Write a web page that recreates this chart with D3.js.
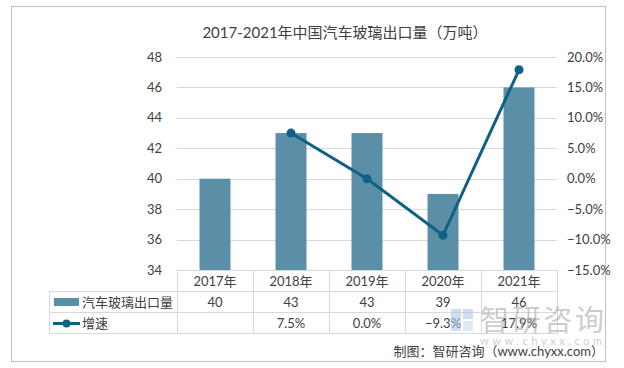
<!DOCTYPE html>
<html lang="zh">
<head>
    <meta charset="UTF-8">
    <title>2017-2021年中国汽车玻璃出口量</title>
    <script src="https://d3js.org/d3.v7.min.js"></script>
    <style>
        body { margin: 0; background: #fff; }
        text { font-family: Lato, "Noto Sans CJK SC", sans-serif; fill: #404040; }
        .grid line { stroke: #d9d9d9; stroke-width: 1px; }
        .cell { fill: none; stroke: #d9d9d9; stroke-width: 1px; }
    </style>
</head>
<body>
<div id="chart"></div>
<script>
    // 数据
    const years = ["2017年", "2018年", "2019年", "2020年", "2021年"];
    const exportVol = [40, 43, 43, 39, 46];
    const growth = [null, 7.5, 0.0, -9.3, 17.9];
    const leftTicks = [34, 36, 38, 40, 42, 44, 46, 48];
    const rightTicks = [-15, -10, -5, 0, 5, 10, 15, 20];

    const W = 624, H = 368;
    const barColor = "#5b8fa8", lineColor = "#0f6183";

    const svg = d3.select("#chart").append("svg")
        .attr("width", W).attr("height", H);

    // 外框
    svg.append("rect").attr("x", 11.5).attr("y", 6.5)
        .attr("width", 594).attr("height", 355)
        .attr("fill", "#fff").attr("stroke", "#bfbfbf");

    // 标题
    svg.append("text").attr("x", 345).attr("y", 38)
        .attr("text-anchor", "middle").style("font-size", "15px")
        .text("2017-2021年中国汽车玻璃出口量（万吨）");

    const x = d3.scaleBand().domain(years).range([177, 557]);
    const y = d3.scaleLinear().domain([34, 48]).range([270, 57]);
    const y2 = d3.scaleLinear().domain([-15, 20]).range([270, 57]);

    // 网格线
    svg.append("g").attr("class", "grid")
        .selectAll("line").data(leftTicks.slice(1)).enter().append("line")
        .attr("x1", 177).attr("x2", 557)
        .attr("y1", d => Math.round(y(d)) + 0.5).attr("y2", d => Math.round(y(d)) + 0.5);

    // 左轴
    svg.append("g").selectAll("text").data(leftTicks).enter().append("text")
        .attr("x", 162).attr("y", d => y(d) + 4.5)
        .attr("text-anchor", "end").style("font-size", "13px")
        .text(d => d);

    // 右轴
    svg.append("g").selectAll("text").data(rightTicks).enter().append("text")
        .attr("x", 567).attr("y", d => y2(d) + 4.5)
        .style("font-size", "13px")
        .text(d => d3.format(".1f")(d) + "%");

    // 柱
    const bw = 31;
    svg.append("g").selectAll("rect").data(exportVol).enter().append("rect")
        .attr("x", (d, i) => x(years[i]) + x.bandwidth() / 2 - bw / 2)
        .attr("y", d => y(d))
        .attr("width", bw)
        .attr("height", d => y(34) - y(d))
        .attr("fill", barColor);

    // 折线
    const pts = growth.map((g, i) => ({ i, g })).filter(d => d.g !== null);
    const line = d3.line()
        .x(d => x(years[d.i]) + x.bandwidth() / 2)
        .y(d => y2(d.g));
    svg.append("path").datum(pts).attr("d", line)
        .attr("fill", "none").attr("stroke", lineColor).attr("stroke-width", 3);
    svg.append("g").selectAll("circle").data(pts).enter().append("circle")
        .attr("cx", d => x(years[d.i]) + x.bandwidth() / 2)
        .attr("cy", d => y2(d.g))
        .attr("r", 4.5).attr("fill", lineColor);

    // 数据表
    const rows = [271, 292, 313, 334];
    const table = svg.append("g");
    // 年份行
    years.forEach((yr, i) => {
        table.append("rect").attr("class", "cell")
            .attr("x", x(yr) + 0.5).attr("y", rows[0] - 0.5)
            .attr("width", x.bandwidth()).attr("height", rows[1] - rows[0]);
        table.append("text")
            .attr("x", x(yr) + x.bandwidth() / 2).attr("y", rows[0] + 15)
            .attr("text-anchor", "middle").style("font-size", "13px").text(yr);
    });
    // 数据行
    const seriesRows = [
        exportVol.map(d => String(d)),
        growth.map(d => d === null ? "" : d3.format(".1f")(d) + "%")
    ];
    seriesRows.forEach((vals, r) => {
        const top = rows[r + 1];
        table.append("rect").attr("class", "cell")
            .attr("x", 49.5).attr("y", top - 0.5)
            .attr("width", 177 - 49).attr("height", rows[r + 2] - top);
        vals.forEach((v, i) => {
            table.append("rect").attr("class", "cell")
                .attr("x", x(years[i]) + 0.5).attr("y", top - 0.5)
                .attr("width", x.bandwidth()).attr("height", rows[r + 2] - top);
            table.append("text")
                .attr("x", x(years[i]) + x.bandwidth() / 2).attr("y", top + 15)
                .attr("text-anchor", "middle").style("font-size", "13px").text(v);
        });
    });
    // 图例
    table.append("rect").attr("x", 54).attr("y", 298).attr("width", 25).attr("height", 8)
        .attr("fill", barColor);
    table.append("text").attr("x", 82).attr("y", 307).style("font-size", "13px")
        .text("汽车玻璃出口量");
    table.append("line").attr("x1", 53).attr("x2", 80).attr("y1", 323.5).attr("y2", 323.5)
        .attr("stroke", lineColor).attr("stroke-width", 3);
    table.append("circle").attr("cx", 66.5).attr("cy", 323.5).attr("r", 4).attr("fill", lineColor);
    table.append("text").attr("x", 82).attr("y", 328).style("font-size", "13px").text("增速");

    // 水印
    const wm = svg.append("g").attr("opacity", 0.55);
    wm.append("rect").attr("x", 451).attr("y", 309).attr("width", 10).attr("height", 22).attr("fill", "#a9c4e4");
    wm.append("rect").attr("x", 463).attr("y", 309).attr("width", 10).attr("height", 10).attr("fill", "#a9c4e4");
    wm.append("rect").attr("x", 463).attr("y", 321).attr("width", 10).attr("height", 10).attr("fill", "#c8d8ec");
    wm.append("text").attr("x", 480).attr("y", 331)
        .style("font-size", "29px").style("fill", "#a6a6a6")
        .attr("textLength", 124)
        .text("智研咨询");
    wm.append("text").attr("x", 480).attr("y", 345)
        .style("font-size", "11px").style("fill", "#a6a6a6")
        .attr("textLength", 122)
        .text("www.chyxx.com");

    // 来源
    svg.append("text").attr("x", 604).attr("y", 356)
        .attr("text-anchor", "end").style("font-size", "13px")
        .text("制图：智研咨询（www.chyxx.com）");
</script>
</body>
</html>
